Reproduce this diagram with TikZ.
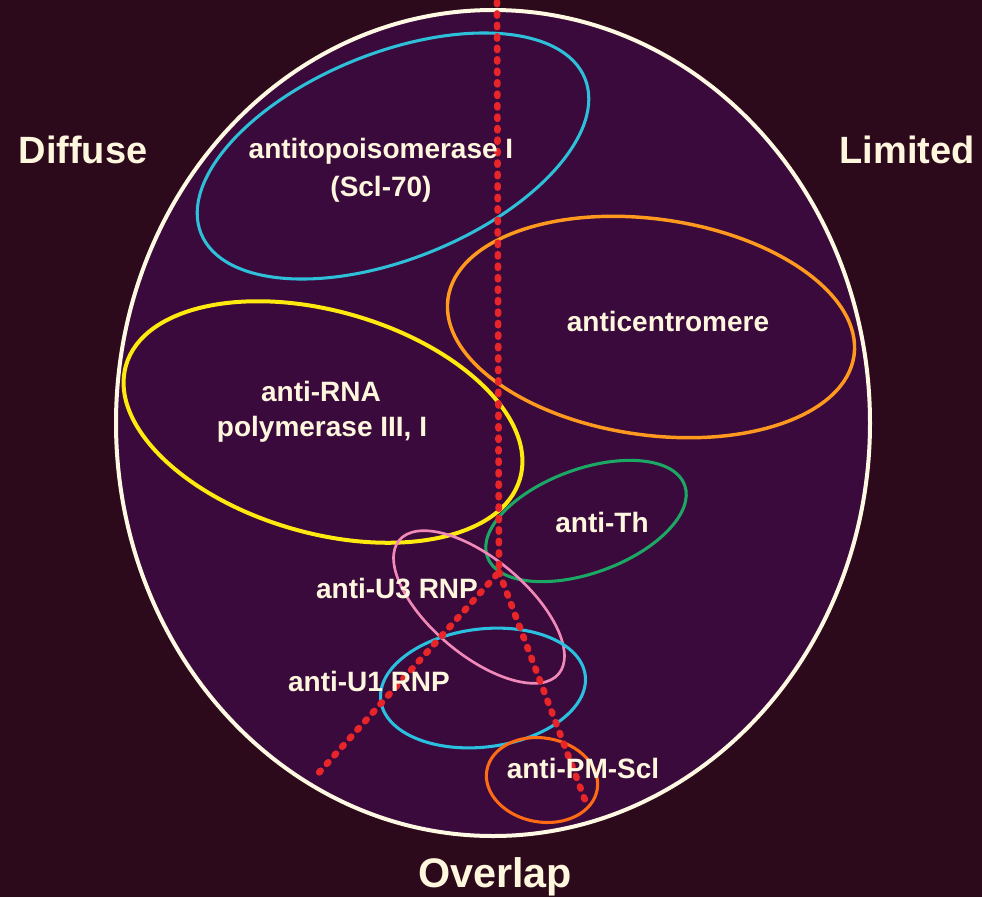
\documentclass[tikz,border=0pt]{standalone}
\usepackage{fontspec}
\setmainfont{Liberation Sans}
\definecolor{outerbg}{HTML}{2C0A1C}
\definecolor{innerbg}{HTML}{3A0A3C}
\definecolor{rim}{HTML}{FFF8E2}
\definecolor{txt}{HTML}{FFF6DE}
\definecolor{sclcyan}{HTML}{2EC0D8}
\definecolor{centor}{HTML}{FF9A1E}
\definecolor{rnayel}{HTML}{FFEA10}
\definecolor{thgreen}{HTML}{1AA864}
\definecolor{u3pink}{HTML}{F088B8}
\definecolor{u1cyan}{HTML}{2AC0E0}
\definecolor{pmorange}{HTML}{FF6A14}
\definecolor{dotred}{HTML}{E8262A}
\begin{document}
\begin{tikzpicture}[x=0.75pt,y=-0.75pt,
  lbl/.style={text=txt,font=\fontsize{21}{26}\selectfont\bfseries,inner sep=0pt,anchor=base},
  side/.style={text=txt,font=\fontsize{28.5}{34}\selectfont\bfseries,inner sep=0pt,anchor=base},
  ring/.style={line width=2.3pt},
  divider/.style={dotred,line width=5pt,line cap=round,dash pattern=on 1.6pt off 7pt}]
\fill[outerbg] (0,0) rectangle (982,897);
\useasboundingbox (0,0) rectangle (982,897);
% outer field
\draw[rim,line width=3pt,fill=innerbg] (493,423) ellipse [x radius=377, y radius=413];
% antibody sets
\draw[ring,sclcyan,rotate around={22:(393,156)}] (393,156) ellipse [x radius=207, y radius=103];
\draw[ring,centor,line width=2.6pt,rotate around={-8:(651,327)}] (651,327) ellipse [x radius=205, y radius=108];
\draw[ring,rnayel,line width=3pt,rotate around={-16:(323,422)}] (323,422) ellipse [x radius=205, y radius=111];
\draw[ring,thgreen,rotate around={20:(586,521)}] (586,521) ellipse [x radius=105, y radius=52];
\draw[ring,u3pink,line width=2pt,rotate around={-40:(479,607)}] (479,607) ellipse [x radius=104, y radius=48];
\draw[ring,u1cyan,rotate around={7:(483,688)}] (483,688) ellipse [x radius=103, y radius=59];
\draw[ring,pmorange,rotate around={-10:(542,780)}] (542,780) ellipse [x radius=56, y radius=42];
% dividing dotted lines
\coordinate (ptop) at (497,2);
\coordinate (fork) at (499,572);
\coordinate (endL) at (315,777);
\coordinate (endR) at (588,808);
\draw[divider] (ptop) -- (fork) -- (endL);
\draw[divider] (fork) -- (endR);
% labels
\node[side] (diffuse) at (83,163) {Diffuse};
\node[side] (limited) at (907,163) {Limited};
\node[side,font=\fontsize{31}{36}\selectfont\bfseries] (overlap) at (495,887) {Overlap};
\node[lbl] (scla) at (381,158) {antitopoisomerase I};
\node[lbl] (sclb) at (381,196) {(Scl-70)};
\node[lbl] (cent) at (668,331) {anticentromere};
\node[lbl] (rnaa) at (321,401) {anti-RNA};
\node[lbl] (rnab) at (322,436) {polymerase III, I};
\node[lbl] (th) at (602,532) {anti-Th};
\node[lbl] (uthree) at (397,598) {anti-U3 RNP};
\node[lbl] (uone) at (369,691) {anti-U1 RNP};
\node[lbl] (pm) at (583,778) {anti-PM-Scl};
\end{tikzpicture}
\end{document}
